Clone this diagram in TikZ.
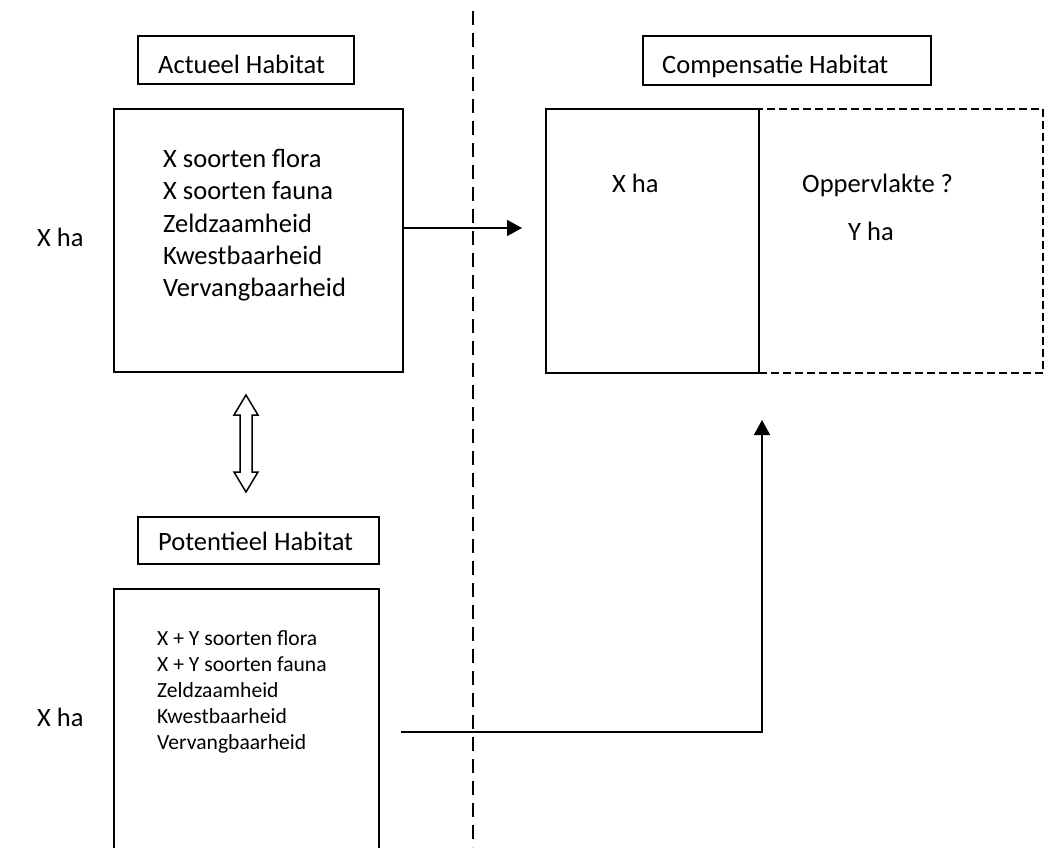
\documentclass[tikz,border=0pt]{standalone}
\usepackage{fontspec}
\setmainfont{Carlito}
\usetikzlibrary{arrows.meta}
\begin{document}
\begin{tikzpicture}[x=1pt,y=1pt,
  frame/.style={draw, line width=1.6pt, inner sep=0pt, anchor=north west},
  big/.style={font=\fontsize{26.5}{32}\selectfont, inner sep=0pt, anchor=base west},
  small/.style={font=\fontsize{21.6}{26}\selectfont, inner sep=0pt, anchor=base west},
  conn/.style={line width=1.6pt},
  head/.style={-{Triangle[length=15pt,width=16pt]}}]
\useasboundingbox (0,0) rectangle (1051,-847);
\clip (0,0) rectangle (1051,-847);
% divider
\coordinate (dtop) at (473,-11);
\coordinate (dbot) at (473,-847);
\draw[line width=1.8pt, dash pattern=on 14pt off 8pt] (dtop) -- (dbot);
% title boxes
\node[frame, minimum width=216pt, minimum height=48pt] (tA) at (137,-35) {};
\node[big] (tAt) at (158,-73) {Actueel Habitat};
\node[frame, minimum width=288pt, minimum height=49pt] (tC) at (642,-35) {};
\node[big] (tCt) at (662,-73) {Compensatie Habitat};
\node[frame, minimum width=241pt, minimum height=47pt] (tP) at (137,-516) {};
\node[big] (tPt) at (158,-550) {Potentieel Habitat};
% actual habitat box
\node[frame, minimum width=289pt, minimum height=263pt] (bA) at (113,-108) {};
\node[big] (a1) at (163,-167) {X soorten flora};
\node[big] (a2) at (163,-199) {X soorten fauna};
\node[big] (a3) at (163,-232) {Zeldzaamheid};
\node[big] (a4) at (163,-264) {Kwestbaarheid};
\node[big] (a5) at (163,-296) {Vervangbaarheid};
\node[big] (lA) at (37,-246) {X ha};
% compensation box
\node[frame, dash pattern=on 8pt off 4pt, minimum width=284pt, minimum height=264pt] (bY) at (758,-108) {};
\node[frame, fill=white, minimum width=213pt, minimum height=264pt] (bC) at (545,-108) {};
\node[big] (cX) at (612,-192) {X ha};
\node[big] (cO) at (802,-192) {Oppervlakte ?};
\node[big] (cY) at (848,-240) {Y ha};
% potential habitat box
\node[frame, minimum width=265pt, minimum height=300pt] (bP) at (113,-588) {};
\node[small] (p1) at (157,-645) {X + Y soorten flora};
\node[small] (p2) at (157,-671) {X + Y soorten fauna};
\node[small] (p3) at (157,-697) {Zeldzaamheid};
\node[small] (p4) at (157,-723) {Kwestbaarheid};
\node[small] (p5) at (157,-749) {Vervangbaarheid};
\node[big] (lP) at (37,-726) {X ha};
% arrows
\coordinate (tipA) at (522,-228);
\draw[conn, head] (bA.east |- tipA) -- (tipA);
\coordinate (startP) at (401,-732);
\coordinate (tipP) at (762,-420);
\draw[conn, head] (startP) -- (tipP |- startP) -- (tipP);
% hollow double arrow
\draw[line width=1.5pt, fill=white, line join=miter]
  (246,-395) -- (258,-415) -- (252,-415) -- (252,-472) -- (258,-472)
  -- (246,-492) -- (234,-472) -- (240,-472) -- (240,-415) -- (234,-415) -- cycle;
\end{tikzpicture}
\end{document}
